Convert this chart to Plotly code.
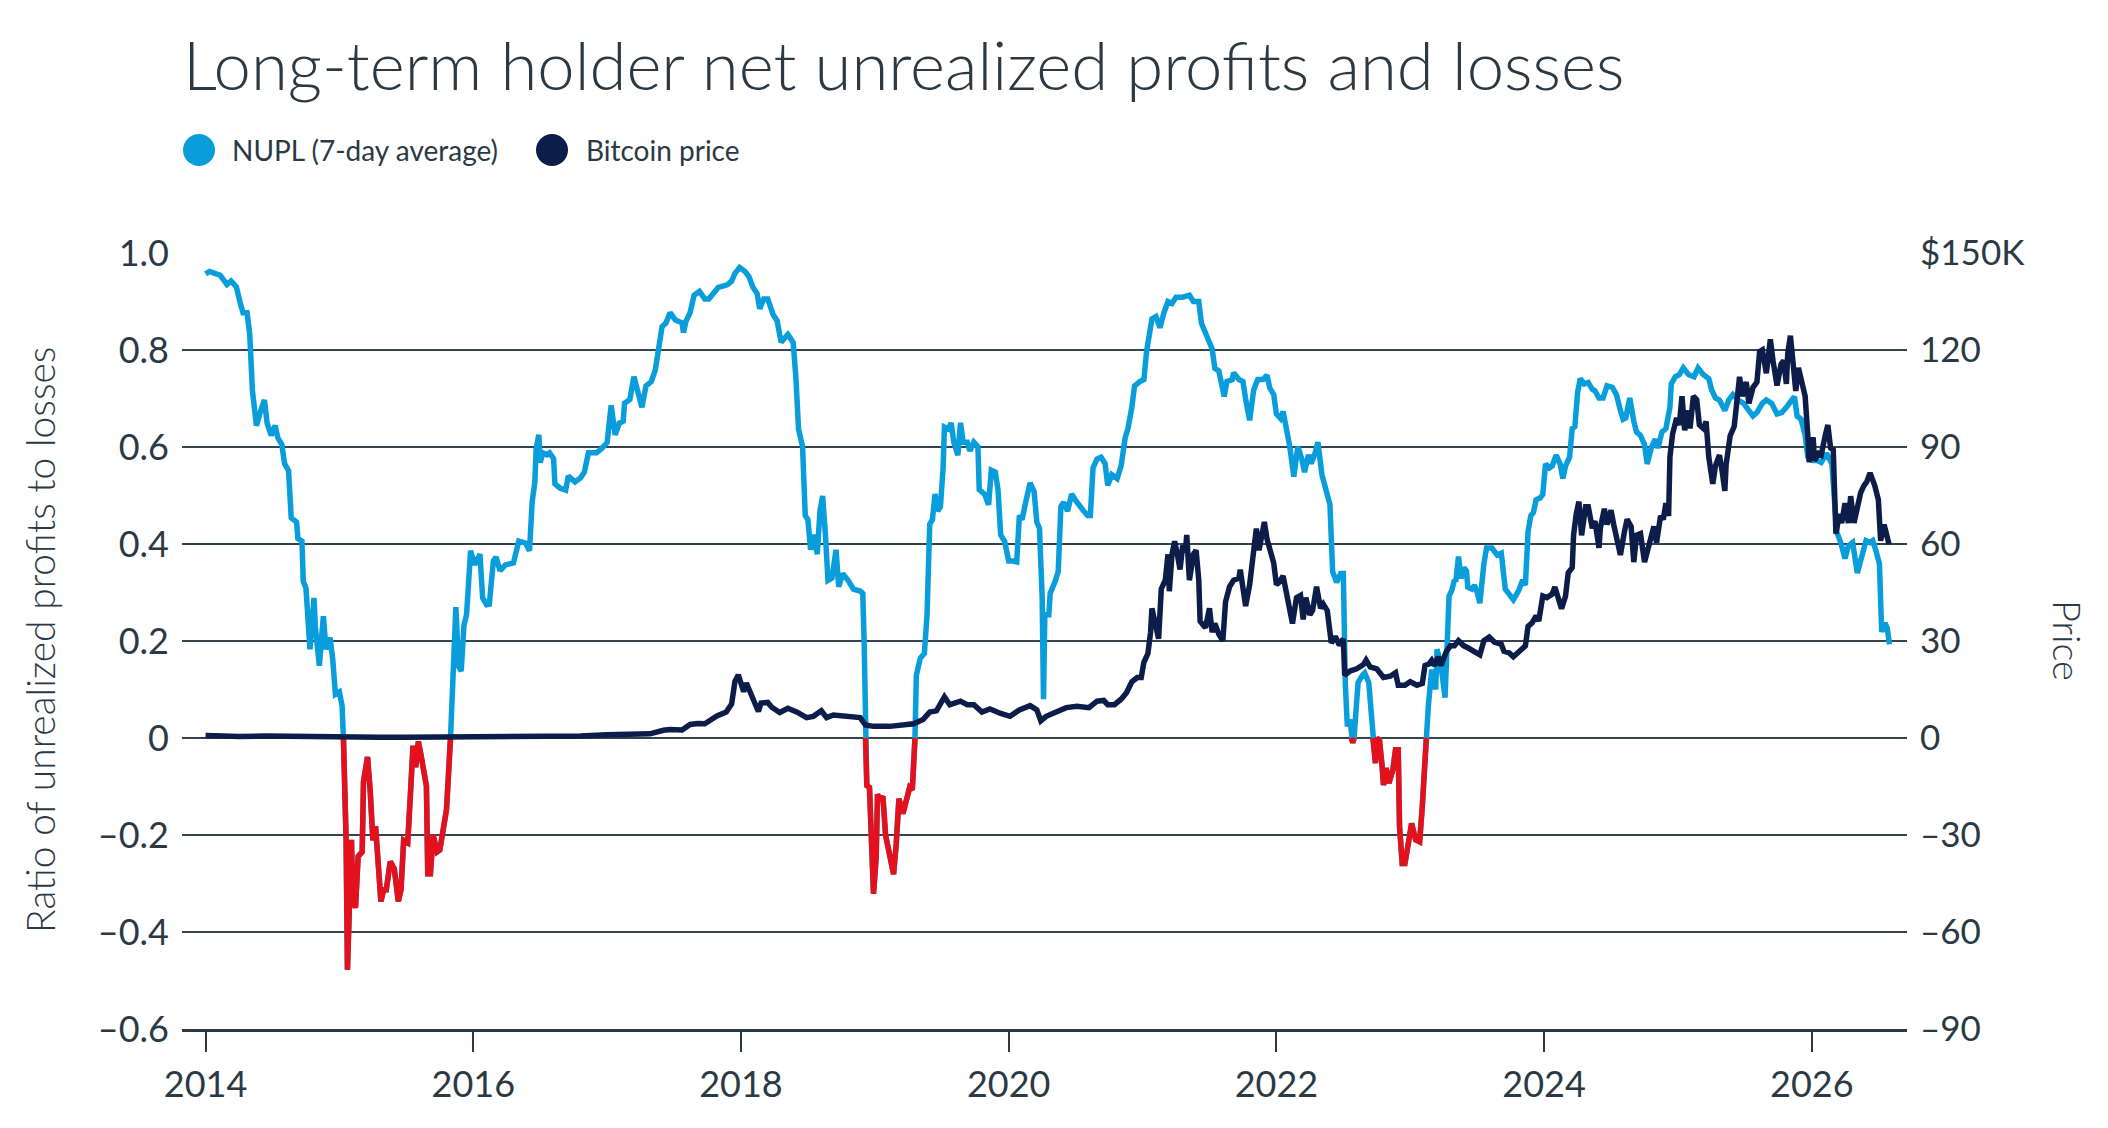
import plotly.graph_objects as go

# ---------------- data ----------------
nupl_year = [
    2014.00, 2014.03, 2014.11, 2014.16, 2014.19, 2014.23, 2014.26, 2014.28, 2014.31, 2014.33,
    2014.35, 2014.38, 2014.41, 2014.44, 2014.46, 2014.49, 2014.52, 2014.54, 2014.57, 2014.59,
    2014.62, 2014.64, 2014.68, 2014.69, 2014.72, 2014.73, 2014.75, 2014.78, 2014.81, 2014.82,
    2014.85, 2014.88, 2014.90, 2014.93, 2014.95, 2014.97, 2015.00, 2015.02, 2015.03, 2015.035,
    2015.05, 2015.06, 2015.07, 2015.09, 2015.10, 2015.12, 2015.14, 2015.17, 2015.18, 2015.21,
    2015.23, 2015.25, 2015.27, 2015.29, 2015.31, 2015.33, 2015.35, 2015.38, 2015.41, 2015.44,
    2015.46, 2015.48, 2015.51, 2015.53, 2015.55, 2015.57, 2015.59, 2015.61, 2015.65, 2015.66,
    2015.68, 2015.70, 2015.73, 2015.75, 2015.78, 2015.80, 2015.83, 2015.85, 2015.87, 2015.89,
    2015.91, 2015.93, 2015.95, 2015.98, 2016.01, 2016.05, 2016.07, 2016.10,
    2016.12, 2016.15, 2016.17, 2016.20, 2016.24, 2016.30, 2016.34, 2016.39, 2016.42, 2016.44,
    2016.46, 2016.47, 2016.49, 2016.50, 2016.52, 2016.55, 2016.57, 2016.60, 2016.61, 2016.65,
    2016.69, 2016.71, 2016.76, 2016.80, 2016.83, 2016.86, 2016.92, 2016.96, 2017.00, 2017.03,
    2017.06, 2017.09, 2017.12, 2017.13, 2017.17, 2017.20, 2017.23, 2017.26, 2017.29, 2017.33,
    2017.36, 2017.39, 2017.41, 2017.44, 2017.47, 2017.51, 2017.56, 2017.57, 2017.59, 2017.62,
    2017.65, 2017.69, 2017.73, 2017.76, 2017.79, 2017.83, 2017.87, 2017.90, 2017.93, 2017.955,
    2017.99, 2018.03, 2018.06, 2018.09, 2018.12, 2018.14, 2018.17, 2018.20, 2018.24, 2018.27,
    2018.30, 2018.33, 2018.35,
    2018.37, 2018.39, 2018.41, 2018.43, 2018.46, 2018.48, 2018.50, 2018.52, 2018.54, 2018.57,
    2018.59, 2018.61, 2018.63, 2018.65, 2018.68, 2018.71, 2018.73, 2018.76, 2018.80, 2018.84,
    2018.89, 2018.91, 2018.92, 2018.93, 2018.94, 2018.96, 2018.98, 2018.99, 2019.01, 2019.02,
    2019.04, 2019.06, 2019.08, 2019.11, 2019.14, 2019.16, 2019.18, 2019.21, 2019.24, 2019.26,
    2019.28, 2019.30, 2019.31, 2019.32, 2019.34, 2019.37, 2019.39, 2019.41, 2019.43, 2019.45,
    2019.47, 2019.49, 2019.51, 2019.52, 2019.55, 2019.57, 2019.59, 2019.62, 2019.64, 2019.66,
    2019.69, 2019.71, 2019.74, 2019.77, 2019.78, 2019.82, 2019.85, 2019.87, 2019.90, 2019.92,
    2019.94, 2019.97, 2020.00, 2020.03, 2020.06, 2020.08, 2020.10, 2020.13, 2020.16, 2020.19,
    2020.21, 2020.23, 2020.25, 2020.26, 2020.27, 2020.30, 2020.31, 2020.35, 2020.37, 2020.39,
    2020.41, 2020.44, 2020.47, 2020.50, 2020.53, 2020.56, 2020.59,
    2020.61, 2020.63, 2020.66, 2020.69, 2020.72, 2020.74, 2020.77, 2020.81, 2020.84, 2020.87,
    2020.89, 2020.92, 2020.94, 2020.98, 2021.01, 2021.03, 2021.07, 2021.10, 2021.13, 2021.16,
    2021.19, 2021.22, 2021.25, 2021.30, 2021.35, 2021.38, 2021.42, 2021.44, 2021.48, 2021.52,
    2021.54, 2021.57, 2021.61, 2021.63, 2021.67, 2021.68, 2021.72, 2021.75, 2021.77, 2021.80,
    2021.83, 2021.86, 2021.90, 2021.93, 2021.95, 2021.98, 2022.00, 2022.03, 2022.05, 2022.08,
    2022.10, 2022.13, 2022.16, 2022.19, 2022.21, 2022.24, 2022.26, 2022.29, 2022.31, 2022.34,
    2022.36, 2022.40, 2022.42, 2022.45, 2022.48, 2022.50,
    2022.515, 2022.53, 2022.55, 2022.56, 2022.57, 2022.58, 2022.59, 2022.61, 2022.64, 2022.66,
    2022.69, 2022.71, 2022.72, 2022.74, 2022.75, 2022.77, 2022.79, 2022.80, 2022.82, 2022.84,
    2022.87, 2022.89, 2022.91, 2022.92, 2022.94, 2022.96, 2022.99, 2023.01, 2023.04, 2023.07,
    2023.09, 2023.11, 2023.12, 2023.135, 2023.16, 2023.19, 2023.20, 2023.23, 2023.26, 2023.275,
    2023.29, 2023.31, 2023.33, 2023.34, 2023.36, 2023.38, 2023.40, 2023.42, 2023.43, 2023.46,
    2023.48, 2023.50, 2023.52, 2023.55, 2023.57, 2023.61, 2023.65, 2023.68, 2023.71, 2023.74,
    2023.77, 2023.81, 2023.84, 2023.86, 2023.88, 2023.90, 2023.92, 2023.94, 2023.97, 2023.99,
    2024.01, 2024.04, 2024.06, 2024.09, 2024.12, 2024.14, 2024.16, 2024.19, 2024.21, 2024.23,
    2024.25, 2024.27, 2024.30, 2024.33, 2024.36, 2024.38, 2024.41, 2024.44, 2024.47, 2024.51,
    2024.54, 2024.57, 2024.59, 2024.61, 2024.64, 2024.67, 2024.69, 2024.72, 2024.75, 2024.77,
    2024.80, 2024.83, 2024.85, 2024.88, 2024.91, 2024.94, 2024.95, 2024.98, 2025.01, 2025.04,
    2025.08, 2025.12, 2025.15, 2025.19, 2025.23, 2025.25, 2025.28, 2025.31, 2025.35, 2025.38,
    2025.41, 2025.45, 2025.49, 2025.53, 2025.56, 2025.59, 2025.63, 2025.66, 2025.70, 2025.74,
    2025.775, 2025.81, 2025.85, 2025.87, 2025.89, 2025.92, 2025.95, 2025.97, 2026.01, 2026.04,
    2026.07, 2026.11, 2026.15, 2026.166, 2026.186, 2026.216, 2026.248, 2026.273, 2026.305, 2026.34,
    2026.37, 2026.405, 2026.435, 2026.455, 2026.48, 2026.505, 2026.522, 2026.547, 2026.564, 2026.58,
]
nupl_value = [
    0.957, 0.962, 0.954, 0.935, 0.942, 0.930, 0.896, 0.877, 0.877, 0.833,
    0.717, 0.644, 0.673, 0.697, 0.649, 0.624, 0.644, 0.619, 0.605, 0.566,
    0.551, 0.454, 0.445, 0.411, 0.406, 0.323, 0.309, 0.183, 0.289, 0.231,
    0.149, 0.251, 0.183, 0.207, 0.163, 0.090, 0.095, 0.066, 0.000, -0.060,
    -0.210, -0.478, -0.350, -0.210, -0.333, -0.350, -0.244, -0.235, -0.090, -0.039,
    -0.109, -0.211, -0.182, -0.255, -0.337, -0.313, -0.313, -0.255, -0.270, -0.337,
    -0.313, -0.211, -0.216, -0.118, -0.016, -0.060, -0.007, -0.036, -0.099, -0.280,
    -0.280, -0.200, -0.235, -0.231, -0.187, -0.148, 0.000, 0.148, 0.270, 0.148,
    0.138, 0.231, 0.255, 0.386, 0.357, 0.379, 0.289, 0.275,
    0.276, 0.365, 0.373, 0.345, 0.357, 0.361, 0.406, 0.402, 0.386, 0.487,
    0.528, 0.597, 0.625, 0.568, 0.588, 0.584, 0.588, 0.576, 0.524, 0.515,
    0.511, 0.540, 0.528, 0.536, 0.548, 0.588, 0.588, 0.597, 0.609, 0.686,
    0.625, 0.649, 0.653, 0.690, 0.698, 0.745, 0.714, 0.682, 0.726, 0.735,
    0.759, 0.808, 0.848, 0.856, 0.877, 0.862, 0.856, 0.836, 0.860, 0.877,
    0.913, 0.921, 0.905, 0.905, 0.917, 0.929, 0.932, 0.935, 0.942, 0.958,
    0.970, 0.962, 0.951, 0.929, 0.917, 0.885, 0.905, 0.905, 0.873, 0.860,
    0.816, 0.824, 0.832,
    0.824, 0.815, 0.744, 0.637, 0.601, 0.459, 0.450, 0.388, 0.419, 0.379,
    0.468, 0.499, 0.423, 0.325, 0.330, 0.388, 0.312, 0.339, 0.325, 0.307,
    0.303, 0.298, 0.200, 0.000, -0.098, -0.102, -0.245, -0.321, -0.245, -0.116,
    -0.129, -0.120, -0.200, -0.236, -0.281, -0.218, -0.125, -0.156, -0.129, -0.102,
    -0.107, 0.000, 0.129, 0.138, 0.165, 0.174, 0.254, 0.441, 0.450, 0.503,
    0.468, 0.477, 0.557, 0.641, 0.637, 0.650, 0.610, 0.583, 0.650, 0.610,
    0.610, 0.592, 0.610, 0.601, 0.512, 0.503, 0.481, 0.552, 0.548, 0.512,
    0.419, 0.405, 0.365, 0.365, 0.363, 0.459, 0.450, 0.490, 0.526, 0.508,
    0.445, 0.432, 0.290, 0.080, 0.254, 0.254, 0.298, 0.325, 0.343, 0.477,
    0.486, 0.468, 0.503, 0.490, 0.477, 0.468, 0.459,
    0.459, 0.557, 0.575, 0.579, 0.566, 0.521, 0.543, 0.535, 0.561, 0.619,
    0.637, 0.682, 0.726, 0.735, 0.739, 0.797, 0.864, 0.869, 0.846, 0.877,
    0.900, 0.896, 0.909, 0.909, 0.913, 0.900, 0.900, 0.855, 0.829, 0.802,
    0.762, 0.757, 0.704, 0.735, 0.739, 0.753, 0.739, 0.735, 0.699, 0.655,
    0.717, 0.739, 0.739, 0.748, 0.722, 0.708, 0.668, 0.659, 0.673, 0.628,
    0.601, 0.539, 0.601, 0.575, 0.548, 0.584, 0.566, 0.588, 0.610, 0.543,
    0.521, 0.481, 0.343, 0.321, 0.339, 0.339,
    0.110, 0.024, 0.038, 0.000, -0.010, 0.000, 0.038, 0.114, 0.128, 0.134,
    0.114, 0.038, 0.000, -0.052, 0.000, -0.005, -0.059, -0.097, -0.062, -0.093,
    -0.066, -0.024, -0.024, -0.183, -0.259, -0.259, -0.210, -0.176, -0.210, -0.214,
    -0.141, -0.038, 0.000, 0.066, 0.141, 0.100, 0.183, 0.148, 0.083, 0.197,
    0.293, 0.304, 0.326, 0.322, 0.374, 0.329, 0.351, 0.344, 0.311, 0.307,
    0.315, 0.300, 0.278, 0.359, 0.392, 0.392, 0.377, 0.381, 0.307, 0.296,
    0.285, 0.304, 0.326, 0.315, 0.425, 0.458, 0.465, 0.491, 0.495, 0.502,
    0.565, 0.557, 0.561, 0.583, 0.565, 0.535, 0.561, 0.579, 0.638, 0.642,
    0.712, 0.741, 0.730, 0.733, 0.719, 0.716, 0.701, 0.701, 0.726, 0.723,
    0.708, 0.675, 0.657, 0.660, 0.701, 0.653, 0.631, 0.624, 0.605, 0.565,
    0.598, 0.616, 0.598, 0.631, 0.638, 0.682, 0.730, 0.745, 0.749, 0.763,
    0.749, 0.745, 0.763, 0.749, 0.741, 0.719, 0.701, 0.697, 0.675, 0.697,
    0.708, 0.697, 0.690, 0.675, 0.664, 0.671, 0.690, 0.697, 0.690, 0.668,
    0.671, 0.682, 0.697, 0.704, 0.664, 0.657, 0.624, 0.580, 0.572, 0.572,
    0.568, 0.587, 0.565, 0.491, 0.425, 0.403, 0.370, 0.396, 0.403, 0.340,
    0.374, 0.407, 0.403, 0.407, 0.385, 0.359, 0.219, 0.237, 0.226, 0.193,
]

# Bitcoin price, thousands of US dollars
price_year = [
    2014.00, 2014.10, 2014.25, 2014.45, 2014.60, 2014.80, 2015.00, 2015.05, 2015.30, 2015.50,
    2015.80, 2016.00, 2016.30, 2016.50, 2016.80, 2017.00, 2017.20, 2017.32, 2017.42, 2017.47,
    2017.56, 2017.62, 2017.68, 2017.73, 2017.82, 2017.89, 2017.93, 2017.955, 2017.98, 2018.00,
    2018.02, 2018.04, 2018.07, 2018.10, 2018.13, 2018.15, 2018.20, 2018.23, 2018.29, 2018.35,
    2018.42, 2018.49, 2018.54, 2018.60, 2018.64, 2018.69, 2018.76, 2018.89, 2018.93, 2018.99,
    2019.11, 2019.21, 2019.29, 2019.36, 2019.41, 2019.46, 2019.52, 2019.56, 2019.64, 2019.69,
    2019.74, 2019.80, 2019.86, 2019.94, 2020.01, 2020.08, 2020.16, 2020.21, 2020.24, 2020.28,
    2020.36, 2020.43, 2020.51, 2020.60,
    2020.66, 2020.71, 2020.74, 2020.79, 2020.84, 2020.88, 2020.92, 2020.96, 2020.99, 2021.01,
    2021.04, 2021.06, 2021.07, 2021.09, 2021.12, 2021.14, 2021.17, 2021.19, 2021.20, 2021.22,
    2021.24, 2021.26, 2021.28, 2021.30, 2021.32, 2021.33, 2021.35, 2021.38, 2021.40, 2021.42,
    2021.43, 2021.47, 2021.50, 2021.52, 2021.54, 2021.57, 2021.60, 2021.62, 2021.65, 2021.68,
    2021.72, 2021.73, 2021.75, 2021.77, 2021.80, 2021.82, 2021.85, 2021.87, 2021.89, 2021.91,
    2021.93, 2021.95, 2021.98, 2022.00, 2022.02, 2022.05, 2022.08, 2022.10, 2022.12, 2022.15,
    2022.18, 2022.20, 2022.22, 2022.25, 2022.27, 2022.30, 2022.33, 2022.35, 2022.38, 2022.41,
    2022.44, 2022.47, 2022.50, 2022.51, 2022.55, 2022.60, 2022.65, 2022.67, 2022.70, 2022.75,
    2022.80,
    2022.85, 2022.89, 2022.91, 2022.96, 2023.00, 2023.05, 2023.09, 2023.11, 2023.14, 2023.16,
    2023.18, 2023.21, 2023.23, 2023.27, 2023.30, 2023.33, 2023.36, 2023.40, 2023.43, 2023.47,
    2023.52, 2023.55, 2023.59, 2023.63, 2023.68, 2023.70, 2023.74, 2023.77, 2023.80, 2023.83,
    2023.86, 2023.88, 2023.91, 2023.94, 2023.96, 2023.99, 2024.02, 2024.06, 2024.08, 2024.10,
    2024.13, 2024.16, 2024.18, 2024.21, 2024.22, 2024.24, 2024.26, 2024.28, 2024.31, 2024.33,
    2024.36, 2024.38, 2024.41, 2024.42, 2024.45, 2024.47, 2024.50, 2024.52, 2024.55, 2024.57,
    2024.60, 2024.62, 2024.65, 2024.67, 2024.69, 2024.72, 2024.75, 2024.78, 2024.82, 2024.84,
    2024.87, 2024.89, 2024.91, 2024.93, 2024.94, 2024.96, 2024.99, 2025.01, 2025.03, 2025.05,
    2025.08,
    2025.09, 2025.115, 2025.14, 2025.16, 2025.19, 2025.21, 2025.23, 2025.26, 2025.28, 2025.31,
    2025.33, 2025.35, 2025.36, 2025.39, 2025.42, 2025.44, 2025.46, 2025.48, 2025.51, 2025.53,
    2025.56, 2025.59, 2025.61, 2025.63, 2025.66, 2025.675, 2025.69, 2025.71, 2025.74, 2025.77,
    2025.79, 2025.81, 2025.82, 2025.84, 2025.86, 2025.88, 2025.90, 2025.92, 2025.95, 2025.97,
    2025.98, 2026.01, 2026.02, 2026.05, 2026.07, 2026.10, 2026.12, 2026.14, 2026.16, 2026.18,
    2026.206, 2026.223, 2026.248, 2026.273, 2026.29, 2026.315, 2026.34, 2026.365, 2026.39, 2026.41,
    2026.435, 2026.455, 2026.47, 2026.497, 2026.514, 2026.54, 2026.56, 2026.577,
]
price_k = [
    0.8, 0.65, 0.45, 0.62, 0.5, 0.38, 0.3, 0.22, 0.24, 0.27,
    0.32, 0.43, 0.42, 0.67, 0.65, 1.0, 1.1, 1.3, 2.4, 2.6,
    2.5, 4.2, 4.5, 4.4, 6.8, 8.0, 10.5, 17.5, 19.5, 16.0,
    14.3, 17.0, 13.7, 11.2, 8.2, 10.8, 11.0, 9.5, 7.9, 9.2,
    8.0, 6.3, 6.7, 8.4, 6.3, 7.1, 6.7, 6.3, 4.0, 3.6,
    3.6, 4.0, 4.4, 5.7, 8.0, 8.4, 12.7, 10.3, 11.4, 10.3,
    10.3, 8.0, 9.0, 7.6, 6.7, 8.7, 10.0, 8.7, 5.3, 6.7,
    8.0, 9.4, 9.8, 9.4,
    11.4, 11.6, 10.3, 10.3, 12.0, 14.0, 17.4, 18.7, 18.7, 23.4,
    26.1, 32.7, 40.1, 35.4, 30.7, 46.1, 48.8, 56.8, 45.4, 56.8,
    60.8, 56.8, 52.1, 59.5, 57.5, 62.8, 48.8, 56.8, 58.1, 48.8,
    36.1, 34.1, 40.1, 32.7, 35.4, 32.1, 30.1, 42.1, 46.8, 48.8,
    49.4, 52.1, 45.4, 40.8, 47.4, 55.5, 64.8, 58.1, 62.8, 66.8,
    61.5, 58.1, 54.1, 47.4, 48.1, 50.1, 44.1, 41.4, 35.4, 43.4,
    44.1, 36.7, 43.4, 38.1, 39.4, 46.8, 40.1, 41.4, 39.4, 29.4,
    31.4, 28.7, 30.7, 19.4, 20.7, 21.4, 22.7, 24.1, 22.0, 21.4,
    18.7,
    19.1, 20.2, 16.3, 16.3, 17.4, 16.3, 16.9, 22.4, 22.9, 24.0,
    22.4, 25.1, 22.4, 26.8, 28.5, 28.5, 30.1, 28.5, 27.9, 26.8,
    25.7, 30.1, 31.2, 29.6, 29.0, 26.8, 26.3, 25.1, 26.5, 27.4,
    28.5, 34.5, 35.6, 37.8, 36.2, 43.9, 43.4, 44.5, 46.7, 43.4,
    40.0, 43.9, 51.1, 52.7, 62.7, 69.3, 73.1, 62.7, 71.5, 71.5,
    64.9, 67.1, 58.8, 64.9, 70.9, 66.0, 70.4, 66.0, 60.4, 56.6,
    63.8, 67.6, 65.4, 54.4, 62.7, 63.2, 54.4, 59.3, 65.4, 60.4,
    68.7, 67.6, 72.6, 68.7, 86.9, 94.1, 99.0, 96.8, 105.7, 95.2,
    101.3,
    95.7, 105.7, 104.6, 96.8, 95.7, 97.9, 86.9, 78.6, 84.2, 87.5,
    82.5, 76.4, 84.7, 93.5, 96.3, 104.6, 111.7, 105.7, 110.1, 103.5,
    108.4, 110.1, 119.5, 120.0, 112.8, 117.8, 123.3, 116.7, 109.0, 115.6,
    116.7, 109.5, 118.9, 124.4, 114.5, 107.3, 114.5, 111.2, 105.7, 93.5,
    85.3, 93.0, 85.8, 88.0, 87.5, 93.5, 96.8, 89.7, 89.1, 63.2,
    69.3, 66.5, 72.6, 66.5, 74.8, 66.5, 70.4, 75.9, 78.1, 79.2,
    82.0, 80.3, 78.1, 73.7, 61.0, 66.0, 63.2, 59.9,
]

x_tick_years = [2014, 2016, 2018, 2020, 2022, 2024, 2026]
x_tick_labels = ["2014", "2016", "2018", "2020", "2022", "2024", "2026"]
left_tick_vals = [-0.6, -0.4, -0.2, 0, 0.2, 0.4, 0.6, 0.8, 1.0]
left_tick_text = ["–0.6", "–0.4", "–0.2", "0", "0.2", "0.4", "0.6", "0.8", "1.0"]
right_tick_vals = [-90, -60, -30, 0, 30, 60, 90, 120, 150]
right_tick_text = ["–90", "–60", "–30", "0", "30", "60", "90", "120", "$150K"]

title_text = "Long-term holder net unrealized profits and losses"
series_names = ["NUPL (7-day average)", "Bitcoin price"]
left_title = "Ratio of unrealized profits to losses"
right_title = "Price"

# ---------------- style ----------------
BLUE = "#0A9DDB"
NAVY = "#0B1D48"
RED = "#E4101B"
TEXT = "#2B3944"
GRID = "#35434C"
FONT = "Lato"

W, H = 2108, 1128
L, R, T, B = 182, 201, 253, 99
PW, PH = W - L - R, H - T - B


def px_to_paper_x(px):
    return (px - L) / PW


def px_to_paper_y(py):
    return (H - B - py) / PH


# red overlay: only the part at or below zero
nupl_neg = [v if v <= 0 else None for v in nupl_value]

fig = go.Figure()
fig.add_trace(go.Scatter(x=nupl_year, y=nupl_value, mode="lines",
                         line=dict(color=BLUE, width=5.5), showlegend=False,
                         name=series_names[0]))
fig.add_trace(go.Scatter(x=nupl_year, y=nupl_neg, mode="lines",
                         line=dict(color=RED, width=5.5), showlegend=False,
                         connectgaps=False, name="NUPL below zero"))
fig.add_trace(go.Scatter(x=price_year, y=price_k, mode="lines", yaxis="y2",
                         line=dict(color=NAVY, width=5.5), showlegend=False,
                         name=series_names[1]))

fig.update_layout(
    width=W, height=H,
    margin=dict(l=L, r=R, t=T, b=B, autoexpand=False),
    paper_bgcolor="white", plot_bgcolor="white",
    font=dict(family=FONT, color=TEXT, size=34),
    showlegend=False,
    xaxis=dict(
        range=[2013.824, 2026.711], tickvals=x_tick_years, ticktext=x_tick_labels,
        showgrid=False, zeroline=False, showline=True, linecolor=TEXT, linewidth=3,
        ticks="outside", ticklen=20, tickwidth=1.5, tickcolor=TEXT,
        tickfont=dict(size=36, color=TEXT), ticklabelstandoff=2,
    ),
    yaxis=dict(
        range=[-0.6, 1.0], tickvals=left_tick_vals, ticktext=left_tick_text,
        showgrid=True, gridcolor=GRID, gridwidth=1.5, zeroline=False,
        showline=False, ticks="", tickfont=dict(size=36, color=TEXT),
        ticklabelstandoff=12,
    ),
    yaxis2=dict(
        range=[-90, 150], tickvals=right_tick_vals, ticktext=right_tick_text,
        overlaying="y", side="right", showgrid=False, zeroline=False,
        showline=False, ticks="", tickfont=dict(size=35, color=TEXT),
        ticklabelstandoff=12,
    ),
)

annotations = [
    dict(text=title_text, xref="paper", yref="paper", x=px_to_paper_x(181), y=px_to_paper_y(64),
         xanchor="left", yanchor="middle", showarrow=False,
         font=dict(family=FONT, size=67, color=TEXT, weight=300)),
    dict(text=series_names[0], xref="paper", yref="paper", x=px_to_paper_x(230), y=px_to_paper_y(150),
         xanchor="left", yanchor="middle", showarrow=False,
         font=dict(family=FONT, size=28, color=TEXT)),
    dict(text=series_names[1], xref="paper", yref="paper", x=px_to_paper_x(584), y=px_to_paper_y(150),
         xanchor="left", yanchor="middle", showarrow=False,
         font=dict(family=FONT, size=28, color=TEXT)),
    dict(text=left_title, xref="paper", yref="paper", x=px_to_paper_x(40), y=px_to_paper_y(640),
         xanchor="center", yanchor="middle", showarrow=False, textangle=-90,
         font=dict(family=FONT, size=39, color=TEXT, weight=300)),
    dict(text=right_title, xref="paper", yref="paper", x=px_to_paper_x(2068), y=px_to_paper_y(640),
         xanchor="center", yanchor="middle", showarrow=False, textangle=90,
         font=dict(family=FONT, size=38, color=TEXT, weight=300)),
]
fig.update_layout(annotations=annotations)

shapes = []
for cx, col in [(199, BLUE), (552, NAVY)]:
    shapes.append(dict(type="circle", xref="paper", yref="paper",
                       xsizemode="pixel", ysizemode="pixel",
                       xanchor=px_to_paper_x(cx), yanchor=px_to_paper_y(150),
                       x0=-16, x1=16, y0=-16, y1=16,
                       fillcolor=col, line=dict(width=0)))
fig.update_layout(shapes=shapes)

fig.write_html("out.html")
